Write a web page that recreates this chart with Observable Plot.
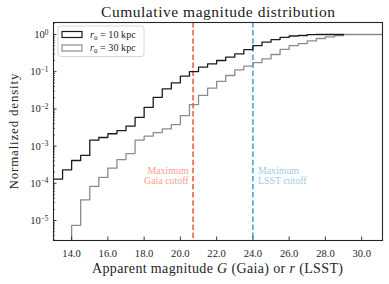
<!DOCTYPE html>
<html><head><meta charset="utf-8">
<script src="https://cdn.jsdelivr.net/npm/d3@7"></script>
<script src="https://cdn.jsdelivr.net/npm/@observablehq/plot@0.6"></script>
<style>body{margin:0;background:#fff}#chart{width:389px;height:284px}</style>
</head><body><div id="chart"></div>
<script>
// ---- data ----
const binLeft = [13.0,13.5,14.0,14.5,15.0,15.5,16.0,16.5,17.0,17.5,18.0,18.5,19.0,19.5,20.0,20.5,21.0,21.5,22.0,22.5,23.0,23.5,24.0,24.5,25.0,25.5,26.0,26.5,27.0,27.5,28.0,28.5,29.0,29.5,30.0,30.5,31.0];
const binWidth = 0.5;
// r0 = 10 kpc (cumulative, normalized)
const density10 = [1.3e-4,2.3e-4,4.1e-4,5.6e-4,1.45e-3,1.7e-3,2.15e-3,2.6e-3,3.45e-3,5.9e-3,1.1e-2,2.05e-2,3.45e-2,5.0e-2,7.6e-2,0.101,0.132,0.162,0.20,0.245,0.30,0.39,0.50,0.62,0.73,0.84,0.91,0.94,0.99,1.0,1.0,1.0,null,null,null,null,null];
// r0 = 30 kpc
const density30 = [0,0,7.4e-6,3.6e-5,8.3e-5,1.45e-4,2.55e-4,4.35e-4,6.3e-4,1.45e-3,1.85e-3,2.3e-3,2.9e-3,3.8e-3,6.6e-3,1.3e-2,2.3e-2,3.6e-2,5.5e-2,7.9e-2,0.112,0.141,0.175,0.22,0.29,0.40,0.50,0.57,0.67,0.78,0.86,0.93,1.0,1.0,1.0,1.0,1.0];
const gaiaCut = 20.7;
const lsstCut = 24.0;
const xTicks = [14,16,18,20,22,24,26,28,30];
const yTicks = [1e-5,1e-4,1e-3,1e-2,1e-1,1];
const seriesLabels = ["10", "30"];
const titleText = "Cumulative magnitude distribution";
const yLabel = "Normalized density";

// ---- helpers ----
function stepPoints(vals){
  const pts = [];
  let last = null, lastX = null;
  vals.forEach((v,i)=>{ if(v!=null){ pts.push({x:binLeft[i], y:v}); last=v; lastX=binLeft[i]; } });
  pts.push({x:lastX+binWidth, y:last});
  return pts;
}
const yMinor = [];
for (let k=-6;k<=0;k++) for (let m=2;m<=9;m++) yMinor.push(m*Math.pow(10,k));

const W=389, H=284, mL=53, mR=7, mT=22, mB=44;
const iW=W-mL-mR, iH=H-mT-mB;
const ink="#262626";
const red="#f2694d", blue="#56aadf";
const serif="Liberation Serif, serif";

const chart = Plot.plot({
  width:W, height:H, marginLeft:mL, marginRight:mR, marginTop:mT, marginBottom:mB,
  style:{fontFamily:serif, fontSize:"10.6px", color:ink, background:"#fff"},
  x:{domain:[13,31.15], ticks:xTicks, tickFormat:d=>d.toFixed(1), tickSize:0, tickPadding:9.3, label:null},
  y:{type:"log", domain:[2.9e-6,2.1], ticks:yTicks, tickFormat:d=>"10^"+Math.round(Math.log10(d)), tickSize:0, tickPadding:5, label:null},
  marks:[
    Plot.ruleX([gaiaCut],{x:d=>d, stroke:red, strokeWidth:1.7, strokeDasharray:"5.5,2.6"}),
    Plot.ruleX([lsstCut],{x:d=>d, stroke:blue, strokeWidth:1.7, strokeDasharray:"5.5,2.6"}),
    Plot.line(stepPoints(density30),{x:"x", y:d=>Math.max(d.y,1e-8), curve:"step-after", stroke:"#8c8c8c", strokeWidth:1.3, clip:true}),
    Plot.line(stepPoints(density10),{x:"x", y:d=>Math.max(d.y,1e-8), curve:"step-after", stroke:"#1c1c1c", strokeWidth:1.3, clip:true}),
    Plot.text([gaiaCut],{x:d=>d, frameAnchor:"bottom", dy:-65, lineAnchor:"middle", textAnchor:"end", dx:-4.5, text:()=>"Maximum\nGaia cutoff", fill:"#f5a08b", fontSize:9.9, lineHeight:1.05}),
    Plot.text([lsstCut],{x:d=>d, frameAnchor:"bottom", dy:-65, lineAnchor:"middle", textAnchor:"start", dx:5, text:()=>"Maximum\nLSST cutoff", fill:"#9ccbea", fontSize:9.9, lineHeight:1.05}),
    Plot.tickY(yTicks,{y:d=>d, insetRight:iW-3.5, stroke:ink, strokeWidth:0.9}),
    Plot.tickY(yMinor.filter(v=>v>2.9e-6&&v<2.1),{y:d=>d, insetRight:iW-2, stroke:ink, strokeWidth:0.7}),
    Plot.tickX(xTicks,{x:d=>d, insetTop:iH-3.5, stroke:ink, strokeWidth:0.9}),
    Plot.frame({stroke:ink, strokeWidth:1.1}),
    Plot.text([titleText],{frameAnchor:"top", dy:-10, lineAnchor:"middle", text:d=>d, fontSize:15.5, fill:"#1a1a1a"}),
    Plot.text([yLabel],{frameAnchor:"left", dx:-40, rotate:-90, textAnchor:"middle", lineAnchor:"middle", text:d=>d, fontSize:13, fill:ink})
  ]
});
document.getElementById("chart").appendChild(chart);

const svg = d3.select(chart);
// superscript exponents on y tick labels
svg.selectAll('g[aria-label="y-axis tick label"] text').each(function(){
  const t = d3.select(this); const s = t.text();
  const m = s.match(/^10\^(-?\d+)$/); if(!m) return;
  t.text("10");
  t.append("tspan").attr("dy","-0.45em").attr("font-size","7.3px").text(m[1].replace("-","\u2212"));
});
// stretch title / y label to the reference widths (CM fonts are wider)
svg.selectAll("text").filter(function(){return this.textContent===titleText;})
  .attr("textLength",234).attr("lengthAdjust","spacing");
svg.selectAll("text").filter(function(){return this.textContent===yLabel;})
  .attr("textLength",116).attr("lengthAdjust","spacing");

// x axis label with italic symbols
const xl = svg.append("text").attr("x", mL+iW/2).attr("y", 273).attr("text-anchor","middle")
  .attr("font-family",serif).attr("font-size","14px").attr("fill",ink)
  .attr("textLength",251).attr("lengthAdjust","spacing");
xl.append("tspan").text("Apparent magnitude ");
xl.append("tspan").attr("font-style","italic").text("G");
xl.append("tspan").text(" (Gaia) or ");
xl.append("tspan").attr("font-style","italic").text("r");
xl.append("tspan").text(" (LSST)");

// legend
const lg = svg.append("g").attr("font-family",serif).attr("font-size","10.2px").attr("fill",ink).attr("text-anchor","start");
lg.append("rect").attr("x",58).attr("y",26).attr("width",86).attr("height",30.5).attr("rx",2.5)
  .attr("fill","#fff").attr("fill-opacity",0.85).attr("stroke","#d4d4d4").attr("stroke-width",0.9);
const legendColors = ["#1c1c1c","#8c8c8c"];
seriesLabels.forEach((lab,i)=>{
  const cy = 34.5 + i*13.5;
  lg.append("rect").attr("x",62).attr("y",cy-3).attr("width",20).attr("height",6)
    .attr("fill","none").attr("stroke",legendColors[i]).attr("stroke-width",1.2);
  const tx = lg.append("text").attr("x",90).attr("y",cy+3.4).attr("text-anchor","start");
  tx.append("tspan").attr("font-style","italic").text("r");
  tx.append("tspan").attr("font-size","7px").attr("dy","2").text("0");
  tx.append("tspan").attr("dy","-2").text(" = "+lab+" kpc");
});
</script>
</body></html>
